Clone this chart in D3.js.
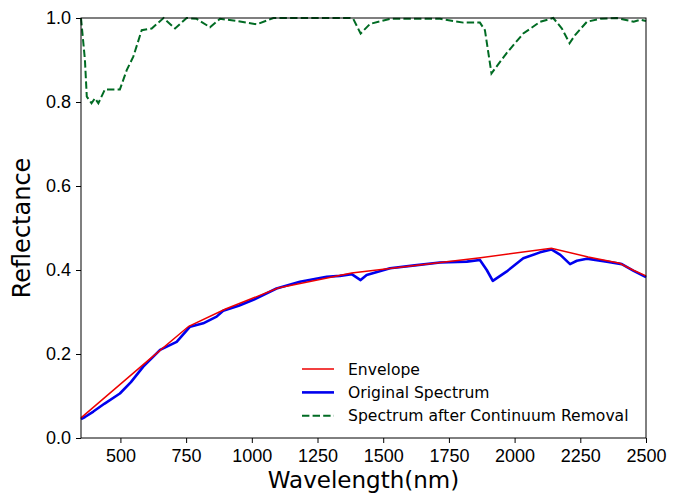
<!DOCTYPE html>
<html>
<head>
<meta charset="utf-8">
<script src="https://cdn.jsdelivr.net/npm/d3@7"></script>
<style>
body{margin:0;background:#fff;}
svg{font-family:"DejaVu Sans",sans-serif;}
.tick text{font-size:18px;fill:#000;}
.tick line{stroke:#000;}
</style>
</head>
<body>
<svg id="chart"></svg>
<script>
// original spectrum (wavelength, reflectance)
var originalWl = [350,365,397,440,498,540,587,651,714,765,815,866,891,950,1006,1094,1183,1285,1335,1380,1414,1437,1526,1620,1716,1818,1868,1894,1917,1969,2033,2097,2140,2174,2211,2237,2275,2351,2408,2453,2500];
var originalR  = [0.045,0.050,0.063,0.082,0.106,0.133,0.170,0.210,0.229,0.265,0.273,0.289,0.303,0.315,0.329,0.356,0.372,0.384,0.386,0.390,0.376,0.388,0.404,0.411,0.418,0.420,0.424,0.400,0.374,0.396,0.428,0.442,0.449,0.436,0.414,0.422,0.427,0.420,0.414,0.398,0.383];

// envelope (convex hull vertices)
var envelopeWl = [350,600,760,900,1100,1380,1870,2140,2280,2400,2450,2500];
var envelopeR  = [0.048,0.182,0.266,0.307,0.357,0.393,0.429,0.452,0.431,0.416,0.400,0.386];

// continuum removed spectrum
var removedWl = [350,365,372,390,403,416,441,498,524,549,581,619,664,708,752,790,841,879,930,1019,1082,1373,1386,1414,1450,1526,1716,1805,1868,1887,1912,1969,2033,2097,2147,2180,2209,2231,2275,2326,2389,2453,2480,2500];
var removedR  = [1.0,0.90,0.813,0.797,0.809,0.797,0.830,0.830,0.876,0.908,0.971,0.975,1.0,0.975,1.0,0.998,0.978,0.998,0.994,0.985,1.0,1.0,0.998,0.963,0.986,0.998,0.998,0.989,0.989,0.971,0.868,0.916,0.963,0.991,1.0,0.975,0.94,0.96,0.991,0.998,1.0,0.991,0.996,0.993];

var xTicks = [500,750,1000,1250,1500,1750,2000,2250,2500];
var yTicks = [0,0.2,0.4,0.6,0.8,1.0];
var legendNames = ["Envelope","Original Spectrum","Spectrum after Continuum Removal"];

var screen = {width:673,height:493};
var margins = {left:81,right:27,top:18,bottom:55};
var graph = {
    width:screen.width-margins.left-margins.right,
    height:screen.height-margins.top-margins.bottom
};

var svg = d3.select("#chart")
    .attr("width",screen.width)
    .attr("height",screen.height);

var xScale = d3.scaleLinear().domain([350,2500]).range([0,graph.width]);
var yScale = d3.scaleLinear().domain([0,1]).range([graph.height,0]);

var target = svg.append("g")
    .attr("transform","translate("+margins.left+","+margins.top+")");

var line = d3.line()
    .x(function(d){return xScale(d[0]);})
    .y(function(d){return yScale(d[1]);});

var zip = function(a,b){return a.map(function(v,i){return [v,b[i]];});};

target.append("path")
    .datum(zip(removedWl,removedR))
    .attr("d",line)
    .attr("fill","none")
    .attr("stroke","#006b23")
    .attr("stroke-width",2)
    .attr("stroke-dasharray","7.4,3.2");

target.append("path")
    .datum(zip(originalWl,originalR))
    .attr("d",line)
    .attr("fill","none")
    .attr("stroke","#0000ee")
    .attr("stroke-width",2.6)
    .attr("stroke-linejoin","round");

target.append("path")
    .datum(zip(envelopeWl,envelopeR))
    .attr("d",line)
    .attr("fill","none")
    .attr("stroke","#ee0000")
    .attr("stroke-width",1.5);

// frame
target.append("rect")
    .attr("width",graph.width)
    .attr("height",graph.height)
    .attr("fill","none")
    .attr("stroke","#000")
    .attr("stroke-width",1);

var xAxis = d3.axisBottom(xScale).tickValues(xTicks).tickSize(5).tickPadding(6).tickFormat(d3.format("d"));
var yAxis = d3.axisLeft(yScale).tickValues(yTicks).tickSize(5).tickPadding(5).tickFormat(d3.format(".1f"));

target.append("g")
    .attr("transform","translate(0,"+graph.height+")")
    .call(xAxis)
    .call(function(g){g.select(".domain").remove();});
target.append("g")
    .call(yAxis)
    .call(function(g){g.select(".domain").remove();});

// labels
svg.append("text")
    .text("Wavelength(nm)")
    .attr("text-anchor","middle")
    .attr("x",margins.left+graph.width/2)
    .attr("y",487.5)
    .style("font-size","23px");

svg.append("g")
    .attr("transform","translate(30,"+(margins.top+graph.height/2)+")")
    .append("text")
    .text("Reflectance")
    .attr("text-anchor","middle")
    .attr("transform","rotate(-90)")
    .style("font-size","24px");

// legend
var legColors = ["#ee0000","#0000ee","#006b23"];
var legend = svg.append("g").attr("transform","translate(302,369)");
var items = legend.selectAll("g")
    .data(legendNames)
    .enter()
    .append("g")
    .attr("transform",function(d,i){return "translate(0,"+(i*23.4)+")";});
items.append("line")
    .attr("x1",0).attr("x2",32).attr("y1",0).attr("y2",0)
    .attr("stroke",function(d,i){return legColors[i];})
    .attr("stroke-width",function(d,i){return i==1?2.6:(i==0?1.5:2);})
    .attr("stroke-dasharray",function(d,i){return i==2?"7.4,3.2":null;});
items.append("text")
    .text(function(d){return d;})
    .attr("x",46)
    .attr("y",5.5)
    .style("font-size","15.6px");
</script>
</body>
</html>
